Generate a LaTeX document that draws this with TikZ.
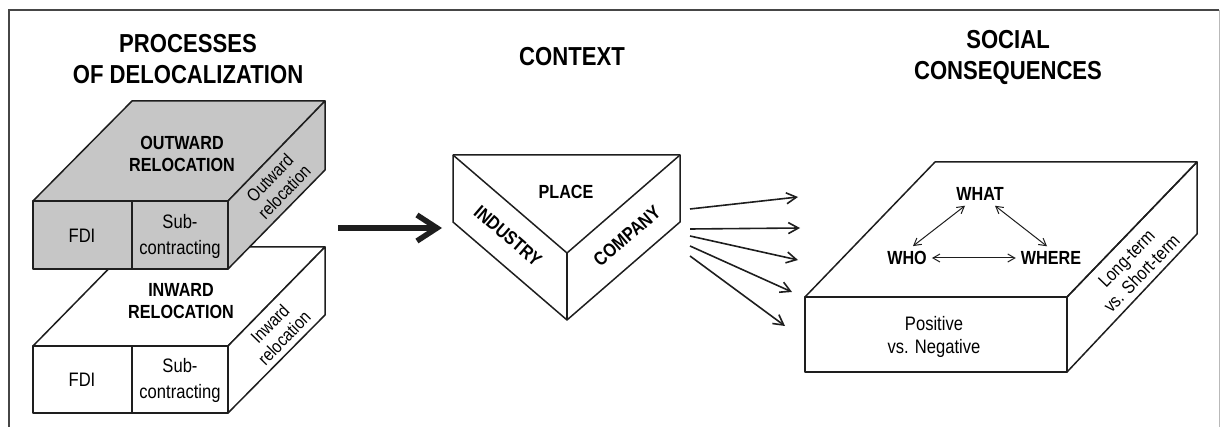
\documentclass[tikz,border=0pt]{standalone}
\usepackage{fontspec}
\setmainfont[FakeStretch=0.85]{Liberation Sans}
\usetikzlibrary{arrows.meta}
\definecolor{boxgray}{RGB}{198,198,198}
\definecolor{inkline}{RGB}{30,30,30}
\definecolor{framedark}{RGB}{70,70,70}
\definecolor{framelight}{RGB}{185,185,185}
\tikzset{
  heading/.style={font=\fontsize{26}{31}\selectfont\bfseries, align=center, inner sep=0pt},
  facelabel/.style={font=\fontsize{19}{21.5}\selectfont\bfseries, align=center, inner sep=0pt},
  celltext/.style={font=\fontsize{19.5}{26}\selectfont, align=center, inner sep=0pt},
  sidetext/.style={font=\fontsize{18}{20}\selectfont, align=center, inner sep=0pt},
  face/.style={draw=inkline, line width=1.5pt, line join=round},
  bigarrow/.style={-{Straight Barb[length=20pt,width=26pt]}, line width=5.5pt, draw=inkline},
  fanarrow/.style={-{Straight Barb[length=10pt,width=11pt]}, line width=1.6pt, draw=inkline},
  linkarrow/.style={{Straight Barb[length=7pt,width=8pt]}-{Straight Barb[length=7pt,width=8pt]}, line width=1pt, draw=inkline},
}
\begin{document}
\begin{tikzpicture}[x=1pt,y=-1pt]
  \useasboundingbox (0,0) rectangle (1221,427);
  \draw [framedark, line width=1.5pt] (9,427) -- (9,10) -- (1219,10); % frame
  \draw [framelight, line width=1pt] (1219,10) -- (1219,427);

  % headings
  \node [heading] (hproc) at (188,59) {PROCESSES\\OF DELOCALIZATION};
  \node [heading] (hcont) at (572,57) {CONTEXT};
  \node [heading] (hsoc) at (1008,57) {SOCIAL\\CONSEQUENCES};

  % inward relocation box (behind)
  \filldraw [face, fill=white] (33,346) -- (130,247) -- (325,247) -- (228,346) -- cycle; % top
  \filldraw [face, fill=white] (228,346) -- (325,247) -- (325,315) -- (228,413) -- cycle; % side
  \filldraw [face, fill=white] (33,346) rectangle (228,413); % front
  \draw [face] (132,346) -- (132,413);
  \node [facelabel] (inwtop) at (181,301) {INWARD\\RELOCATION};
  \node [celltext] (inwfdi) at (82,380) {FDI};
  \node [celltext] (inwsub) at (180,380) {Sub-\\contracting};
  \node [sidetext, rotate=45.6] (inwside) at (277,331) {Inward\\relocation};

  % outward relocation box (front)
  \filldraw [face, fill=boxgray] (33,201) -- (132,101) -- (325,101) -- (228,201) -- cycle; % top
  \filldraw [face, fill=boxgray] (228,201) -- (325,101) -- (325,170) -- (228,269) -- cycle; % side
  \filldraw [face, fill=boxgray] (33,201) rectangle (228,269); % front
  \draw [face] (132,201) -- (132,269);
  \node [facelabel] (outtop) at (182,154) {OUTWARD\\RELOCATION};
  \node [celltext] (outfdi) at (82,236) {FDI};
  \node [celltext] (outsub) at (180,236) {Sub-\\contracting};
  \node [sidetext, rotate=45.6] (outside) at (277,185) {Outward\\relocation};

  % context prism
  \coordinate (pA) at (453,155); % back left
  \coordinate (pB) at (680,155); % back right
  \coordinate (pC) at (567,253); % top front vertex
  \coordinate (pD) at (567,320); % bottom front vertex
  \coordinate (pE) at (453,222);
  \coordinate (pF) at (680,222);
  \draw [face] (pA) -- (pB) -- (pF) -- (pD) -- (pE) -- cycle;
  \draw [face] (pA) -- (pC) -- (pB);
  \draw [face] (pC) -- (pD);
  \node [facelabel] (place) at (566,192) {PLACE};
  \node [facelabel, rotate=-40.7] (industry) at (508,236) {INDUSTRY};
  \node [facelabel, rotate=40.7] (company) at (627,236) {COMPANY};

  % arrow into the context
  \coordinate (bigfrom) at (338,228);
  \coordinate (bigto) at (442,228);
  \draw [bigarrow] (bigfrom) -- (bigto);

  % fan of arrows towards the consequences
  \coordinate (s1) at (690,209); \coordinate (t1) at (798,197);
  \coordinate (s2) at (690,229); \coordinate (t2) at (800,228);
  \coordinate (s3) at (690,236); \coordinate (t3) at (798,260);
  \coordinate (s4) at (690,246); \coordinate (t4) at (792,292);
  \coordinate (s5) at (690,256); \coordinate (t5) at (785,326);
  \draw [fanarrow] (s1) -- (t1);
  \draw [fanarrow] (s2) -- (t2);
  \draw [fanarrow] (s3) -- (t3);
  \draw [fanarrow] (s4) -- (t4);
  \draw [fanarrow] (s5) -- (t5);

  % social consequences box
  \draw [face] (805,297) -- (935,162) -- (1197,162) -- (1067,297) -- cycle; % top
  \draw [face] (1067,297) -- (1197,162) -- (1197,234) -- (1067,372) -- cycle; % side
  \draw [face] (805,297) rectangle (1067,372); % front
  \node [facelabel, inner sep=5pt] (what) at (980,194) {WHAT};
  \node [facelabel, inner sep=5pt] (who) at (907,258) {WHO};
  \node [facelabel, inner sep=5pt] (where) at (1051,258) {WHERE};
  \draw [linkarrow] ([xshift=-15pt]what.south) -- ([xshift=6pt]who.north);
  \draw [linkarrow] ([xshift=15pt]what.south) -- ([xshift=-4pt]where.north);
  \draw [linkarrow] (who) -- (where);
  \node [celltext, font=\fontsize{19.5}{23}\selectfont] (posneg) at (934,337) {Positive\\vs. Negative};
  \node [sidetext, font=\fontsize{18.5}{21}\selectfont, rotate=46] (longshort) at (1134,266) {Long-term\\vs. Short-term};
\end{tikzpicture}
\end{document}
